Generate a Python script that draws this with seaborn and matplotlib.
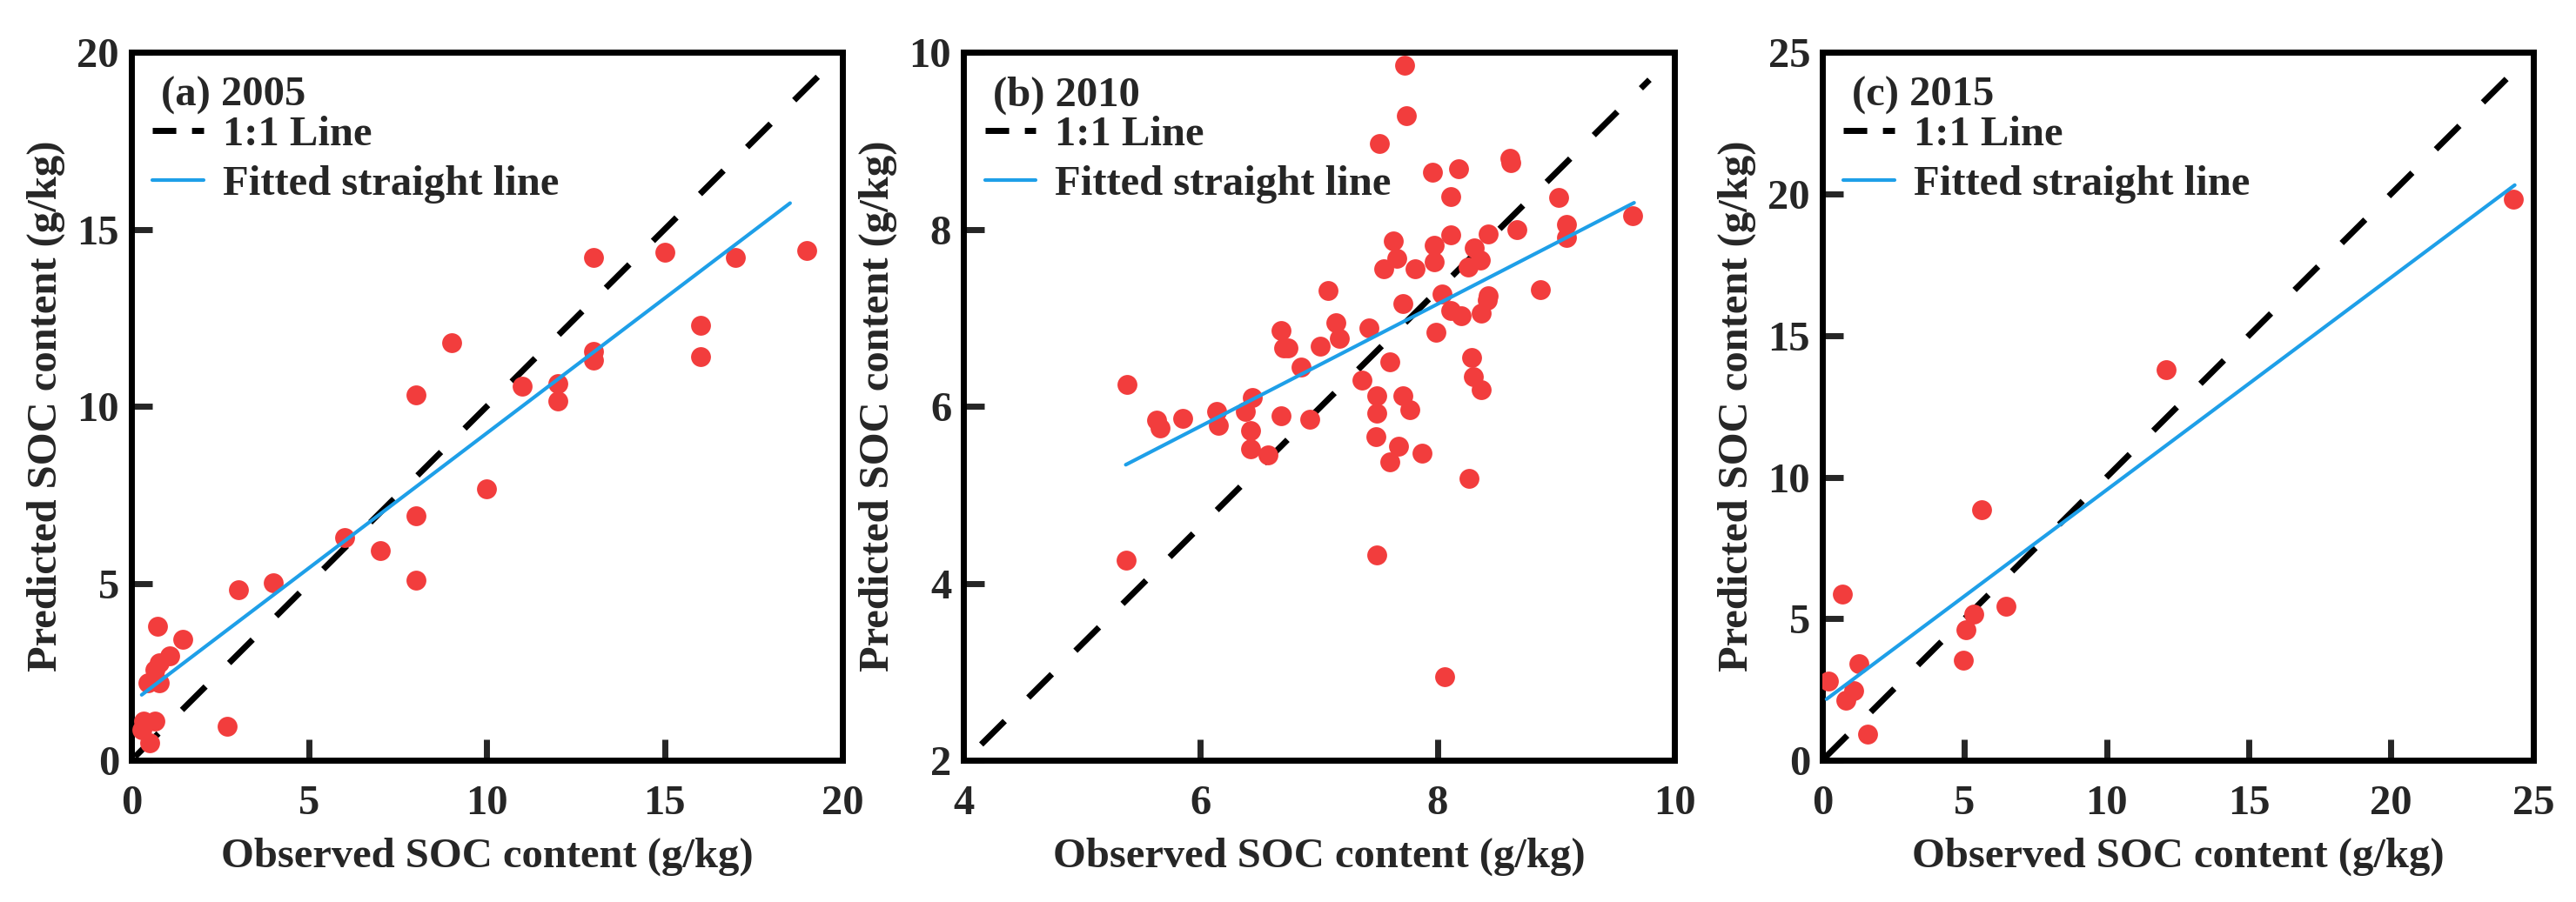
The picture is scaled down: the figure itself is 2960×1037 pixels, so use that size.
import seaborn as sns
import matplotlib.pyplot as plt
from matplotlib.lines import Line2D
import numpy as np

# (a) 2005
obs_2005 = [19.0, 17.0, 15.0, 13.0, 16.0, 16.0, 13.0, 13.0, 12.0, 12.0, 11.0, 9.0,
            8.0, 10.0, 8.0, 8.0, 7.0, 6.0, 4.0, 3.0, 2.7, 1.45, 0.73, 1.08, 0.78,
            0.66, 0.78, 0.47, 0.66, 0.34, 0.30, 0.51]
pred_2005 = [14.4, 14.2, 14.35, 14.2, 12.3, 11.4, 11.55, 11.3, 10.65, 10.15, 10.57, 11.8,
             10.33, 7.66, 6.9, 5.1, 5.93, 6.3, 5.02, 4.81, 0.97, 3.42, 3.79, 2.96, 2.76,
             2.56, 2.19, 2.19, 1.11, 1.11, 0.86, 0.49]

# (b) 2010
obs_2010 = [7.72, 7.74, 7.51, 7.96, 8.18, 8.61, 8.62, 8.11, 9.02, 8.67, 9.09, 9.09,
            9.65, 8.11, 8.43, 7.63, 7.66, 7.55, 7.81, 7.97, 7.97, 8.31, 8.36, 8.26,
            8.87, 7.08, 7.71, 8.04, 8.43, 8.42, 8.11, 8.20, 8.37, 7.14, 7.17, 7.42,
            6.68, 6.70, 6.74, 7.01, 7.99, 6.85, 7.60, 7.36, 8.29, 8.30, 8.37, 5.38,
            6.44, 6.38, 6.14, 6.15, 5.63, 5.66, 5.85, 6.68, 6.92, 7.49, 7.49, 7.71,
            7.77, 6.42, 6.42, 6.57, 7.48, 7.67, 7.60, 7.87, 8.27, 5.37, 7.49, 8.06]
pred_2010 = [9.85, 9.28, 8.97, 8.65, 8.68, 8.80, 8.75, 8.37, 8.36, 8.00, 8.06, 7.91,
             8.15, 7.94, 7.95, 7.87, 7.67, 7.55, 7.55, 7.82, 7.63, 7.79, 7.65, 7.57,
             7.32, 7.31, 7.16, 7.27, 7.25, 7.20, 7.08, 7.02, 7.05, 6.95, 6.77, 6.89,
             6.86, 6.66, 6.66, 6.68, 6.84, 6.44, 6.50, 6.30, 6.55, 6.34, 6.19, 6.25,
             6.10, 5.94, 5.94, 5.79, 5.84, 5.76, 5.86, 5.89, 5.85, 6.12, 5.92, 6.12,
             5.96, 5.73, 5.52, 5.45, 5.66, 5.55, 5.37, 5.47, 5.19, 4.26, 4.32, 2.95]

# (c) 2015
obs_2015 = [24.31, 12.08, 5.59, 6.45, 5.33, 5.06, 4.97, 0.70, 1.30, 1.09, 0.82, 0.21, 1.60]
pred_2015 = [19.82, 13.78, 8.86, 5.44, 5.15, 4.62, 3.53, 5.88, 3.41, 2.47, 2.12, 2.81, 0.94]

titles = ['(a) 2005', '(b) 2010', '(c) 2015']
xlimits = [(0, 20), (4, 10), (0, 25)]
ylimits = [(0, 20), (2, 10), (0, 25)]
xticks = [[0, 5, 10, 15, 20], [4, 6, 8, 10], [0, 5, 10, 15, 20, 25]]
yticks = [[0, 5, 10, 15, 20], [2, 4, 6, 8, 10], [0, 5, 10, 15, 20, 25]]
# dashed "1:1" line end points as drawn in each panel
ref_x = [(0.1, 20.0), (4.15, 9.79), (0.05, 24.77)]
ref_y = [(0.1, 20.0), (2.18, 9.69), (0.05, 24.77)]
# fitted line: slope, intercept, x start, x end
fits = [(0.7615, 1.63, 0.29, 18.53), (0.690, 1.635, 5.37, 9.66), (0.750, 2.05, 0.15, 24.35)]

sns.set_style('white')
plt.rcParams['font.family'] = ['Liberation Serif', 'DejaVu Serif']
plt.rcParams['font.weight'] = 'bold'

fig = plt.figure(figsize=(29.6, 10.37), dpi=100)
lefts = [0.051, 0.374, 0.7074]

data = [(obs_2005, pred_2005), (obs_2010, pred_2010), (obs_2015, pred_2015)]
for i in range(3):
    ax = fig.add_axes([lefts[i], 0.157, 0.276, 0.785])
    obs, pred = data[i]
    sns.scatterplot(x=obs, y=pred, ax=ax, color='#F23D3D', s=270, linewidth=0, zorder=3)

    sns.lineplot(x=list(ref_x[i]), y=list(ref_y[i]), ax=ax, color='black', linewidth=5,
                 zorder=2)
    ax.lines[-1].set_dashes((5.5, 5.5))
    slope, icpt, x0, x1 = fits[i]
    xf = np.array([x0, x1])
    sns.lineplot(x=xf, y=slope * xf + icpt, ax=ax, color='#1E9FE8', linewidth=3, zorder=4)

    ax.set_xlim(*xlimits[i])
    ax.set_ylim(*ylimits[i])
    ax.set_xticks(xticks[i])
    ax.set_yticks(yticks[i])
    ax.tick_params(direction='in', length=17, width=5, labelsize=35,
                   bottom=True, left=True, top=False, right=False)
    ax.tick_params(axis='x', pad=20)
    ax.tick_params(axis='y', pad=10)
    for sp in ax.spines.values():
        sp.set_linewidth(5)
        sp.set_color('black')
    ax.set_xlabel('Observed SOC content (g/kg)', fontsize=35, fontweight='bold', labelpad=12)
    ax.set_ylabel('Predicted SOC content (g/kg)', fontsize=35, fontweight='bold', labelpad=10)

    ax.text(0.042, 0.939, titles[i], transform=ax.transAxes, fontsize=35,
            fontweight='bold', va='center', ha='left')
    handles = [Line2D([], [], color='black', linewidth=5, dashes=(3.9, 2.6)),
               Line2D([], [], color='#1E9FE8', linewidth=3)]
    ax.legend(handles, ['1:1 Line', 'Fitted straight line'], loc='upper left',
              bbox_to_anchor=(0.03, 0.91), frameon=False, fontsize=35,
              handlelength=1.2, handletextpad=0.45, labelspacing=0.25,
              borderpad=0, borderaxespad=0)

fig.savefig('out.png', dpi=100)
